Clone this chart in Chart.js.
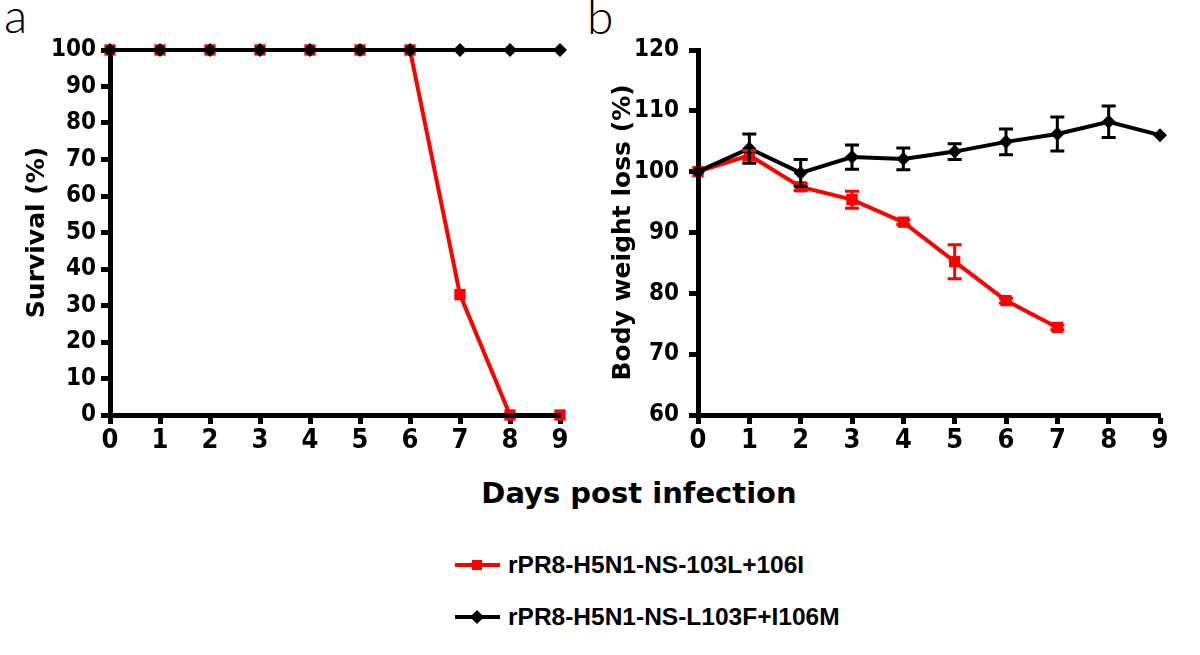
<!DOCTYPE html>
<html>
<head>
<meta charset="utf-8">
<script src="https://cdn.jsdelivr.net/npm/chart.js@4"></script>
<style>
  html, body { margin: 0; padding: 0; background: #fff; }
  #wrap { position: relative; width: 1200px; height: 655px; overflow: hidden; }
  .panel { position: absolute; top: 0; }
  .lab { position: absolute; font-family: Lato, sans-serif; font-weight: 300; font-size: 48px; line-height: 48px; color: #000; }
  #xt { position: absolute; left: 339px; width: 600px; top: 476px; text-align: center;
        font-family: 'DejaVu Sans', sans-serif; font-weight: bold; font-size: 29px; line-height: 34px; }
  .leg { position: absolute; left: 455px; height: 28px; font-family: 'Liberation Sans', Arial, sans-serif;
         font-weight: bold; font-size: 24.5px; line-height: 28px; white-space: nowrap; }
  .leg .ln { position: absolute; left: 0; top: 12px; width: 45px; height: 4px; }
  .leg .mk { position: absolute; }
  .leg .tx { position: absolute; left: 53px; top: 0; }
</style>
</head>
<body>
<div id="wrap">
  <div class="lab" style="left:4px;top:-9px">a</div>
  <div class="lab" style="left:587px;top:-8px">b</div>
  <canvas id="ca" class="panel" style="left:0px" width="590" height="460"></canvas>
  <canvas id="cb" class="panel" style="left:590px" width="610" height="460"></canvas>
  <div id="xt">Days post infection</div>
  <div class="leg" style="top:551px">
    <div class="ln" style="background:#ff0000"></div>
    <div class="mk" style="left:17px;top:9px;width:10px;height:10px;background:#ff0000"></div>
    <div class="tx">rPR8-H5N1-NS-103L+106I</div>
  </div>
  <div class="leg" style="top:603px">
    <div class="ln" style="background:#000"></div>
    <div class="mk" style="left:17px;top:9px;width:10px;height:10px;background:#000;transform:rotate(45deg)"></div>
    <div class="tx">rPR8-H5N1-NS-L103F+I106M</div>
  </div>
</div>
<script>
"use strict";

var days = [0, 1, 2, 3, 4, 5, 6, 7, 8, 9];
var redName = "rPR8-H5N1-NS-103L+106I";
var blackName = "rPR8-H5N1-NS-L103F+I106M";

// panel a: survival (%)
var survivalRed = [100, 100, 100, 100, 100, 100, 100, 33, 0, 0];
var survivalBlack = [100, 100, 100, 100, 100, 100, 100, 100, 100, 100];
var survivalTicks = [0, 10, 20, 30, 40, 50, 60, 70, 80, 90, 100];

// panel b: body weight (%) with error (+/-)
var weightRed = [100, 102.7, 97.5, 95.4, 91.7, 85.2, 78.8, 74.4];
var weightRedErr = [0, 0.8, 0.6, 1.4, 0.4, 2.8, 0.4, 0.4];
var weightBlack = [100, 103.8, 99.8, 102.4, 102.1, 103.3, 104.9, 106.2, 108.2, 106];
var weightBlackErr = [0, 2.4, 2.2, 2.0, 1.8, 1.3, 2.1, 2.8, 2.6, 0];
var weightTicks = [60, 70, 80, 90, 100, 110, 120];

var RED = '#ff0000';
var condensed = "'Liberation Sans Narrow', 'DejaVu Sans Condensed', sans-serif";
var yTickFont = { family: condensed, weight: 'bold', size: 24 };
var xTickFont = { family: condensed, weight: 'bold', size: 27 };
var titleFont = { family: "'DejaVu Sans', sans-serif", weight: 'bold', size: 25 };

function pts(ys) {
    return ys.map(function(v, i){ return { x: days[i], y: v }; });
}

// error bars drawn from the y scale
var errorBars = {
    id: 'errorBars',
    afterDatasetsDraw: function(chart) {
        var ctx = chart.ctx, x = chart.scales.x, y = chart.scales.y;
        var list = chart.data.datasets.slice().sort(function(a, b){ return b.order - a.order; });
        list.forEach(function(ds) {
            if (!ds.errors) return;
            ctx.save();
            ctx.strokeStyle = ds.borderColor;
            ctx.lineWidth = 3;
            ds.data.forEach(function(p, j) {
                var e = ds.errors[j];
                if (!e) return;
                var px = x.getPixelForValue(p.x);
                var top = y.getPixelForValue(p.y + e), bot = y.getPixelForValue(p.y - e);
                ctx.beginPath();
                ctx.moveTo(px, top); ctx.lineTo(px, bot);
                ctx.moveTo(px - 7, top); ctx.lineTo(px + 7, top);
                ctx.moveTo(px - 7, bot); ctx.lineTo(px + 7, bot);
                ctx.stroke();
            });
            ctx.restore();
        });
    }
};

function makeChart(id, redData, blackData, redErr, blackErr, ticks, yTitle, yWidth, titlePad, padRight, tickPad, xOnTop) {
    return new Chart(document.getElementById(id), {
        type: 'line',
        data: {
            datasets: [{
                label: redName,
                data: pts(redData),
                errors: redErr,
                borderColor: RED,
                backgroundColor: RED,
                borderWidth: 4,
                pointStyle: 'rect',
                pointRadius: 8,
                pointBorderWidth: 0,
                clip: false,
                order: 1
            }, {
                label: blackName,
                data: pts(blackData),
                errors: blackErr,
                borderColor: '#000',
                backgroundColor: '#000',
                borderWidth: 4,
                pointStyle: 'rectRot',
                pointRadius: 7,
                pointBorderWidth: 0,
                clip: false,
                order: 0
            }]
        },
        options: {
            responsive: false,
            animation: false,
            layout: { padding: { left: 0, top: 50, right: padRight, bottom: 5 } },
            plugins: { legend: { display: false }, tooltip: { enabled: false } },
            scales: {
                x: {
                    type: 'linear', min: 0, max: 9,
                    afterFit: function(s){ s.height = 40; },
                    ticks: { stepSize: 1, color: '#000', font: xTickFont, padding: 1 },
                    grid: { drawOnChartArea: false, color: '#000', tickLength: 9, tickWidth: 5 },
                    border: { color: '#000', width: 5, z: xOnTop ? 1 : 0 }
                },
                y: {
                    type: 'linear', min: ticks[0], max: ticks[ticks.length - 1],
                    afterFit: function(s){ s.width = yWidth; },
                    afterBuildTicks: function(s){ s.ticks = ticks.map(function(v){ return { value: v }; }); },
                    ticks: { color: '#000', font: yTickFont, padding: tickPad },
                    grid: { drawOnChartArea: false, color: '#000', tickLength: 9, tickWidth: 5 },
                    border: { color: '#000', width: 5 },
                    title: { display: true, text: yTitle, color: '#000', font: titleFont, padding: { top: titlePad, bottom: 0 } }
                }
            }
        },
        plugins: [errorBars]
    });
}

makeChart('ca', survivalRed, survivalBlack, null, null, survivalTicks, 'Survival (%)', 110, 22, 30, 5, true);
makeChart('cb', weightRed, weightBlack, weightRedErr, weightBlackErr, weightTicks, 'Body weight loss (%)', 108, 18, 40, 10, false);
</script>
</body>
</html>
